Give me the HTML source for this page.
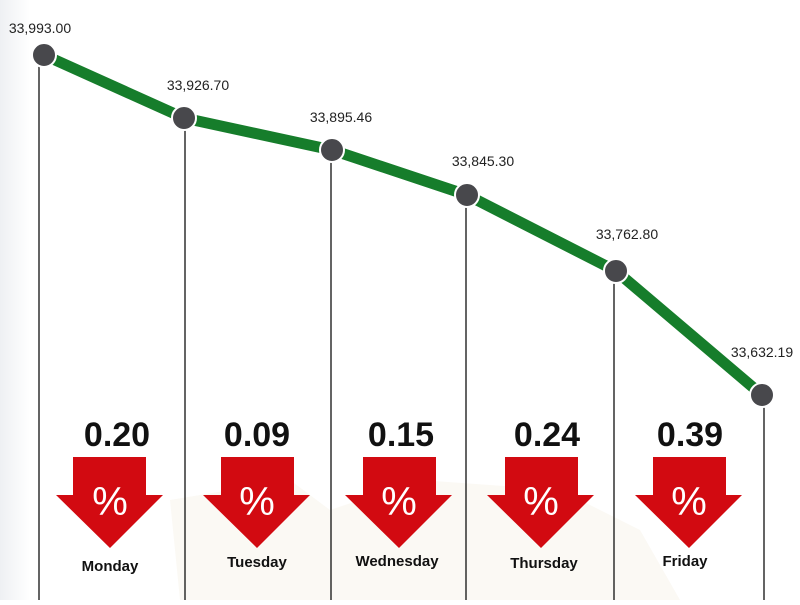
<!DOCTYPE html>
<html><head><style>
body{margin:0;width:800px;height:600px;background:#fff;overflow:hidden;font-family:"Liberation Sans",sans-serif}
</style></head><body>
<svg width="800" height="600" xmlns="http://www.w3.org/2000/svg">
<defs><linearGradient id="g" x1="0" x2="1"><stop offset="0" stop-color="#eef0f3"/><stop offset="1" stop-color="#fff"/></linearGradient></defs>
<rect x="0" y="0" width="30" height="600" fill="url(#g)"/>
<path d="M170 500 L290 480 L330 510 L420 480 L560 490 L640 530 L680 600 L180 600 Z" fill="#fbf9f4"/>
<g stroke="#111" stroke-width="1.3">
<line x1="39" y1="60" x2="39" y2="600"/><line x1="185" y1="120" x2="185" y2="600"/>
<line x1="331" y1="152" x2="331" y2="600"/><line x1="466" y1="196" x2="466" y2="600"/>
<line x1="614" y1="272" x2="614" y2="600"/><line x1="764" y1="396" x2="764" y2="600"/>
</g>
<polyline points="44,55 184,118 332,150 467,195 616,271 762,395" fill="none" stroke="#167d2b" stroke-width="11" stroke-linejoin="round"/>
<g fill="#48484c" stroke="#fff" stroke-width="2">
<circle cx="44" cy="55" r="12"/><circle cx="184" cy="118" r="12"/><circle cx="332" cy="150" r="12"/>
<circle cx="467" cy="195" r="12"/><circle cx="616" cy="271" r="12"/><circle cx="762" cy="395" r="12"/>
</g>
<g font-size="14" fill="#222" text-anchor="middle">
<text x="40" y="33">33,993.00</text><text x="198" y="90">33,926.70</text>
<text x="341" y="122">33,895.46</text><text x="483" y="166">33,845.30</text>
<text x="627" y="239">33,762.80</text><text x="762" y="357">33,632.19</text>
</g>
<g fill="#d20a11">
<path d="M73 457 H146 V495 H163 L110 548 L56 495 H73 Z"/>
<path d="M224 457 H297 V495 H313 L260 548 L206 495 H224 Z" transform="translate(-3,0)"/>
<path d="M363 457 H436 V495 H452 L399 548 L345 495 H363 Z"/>
<path d="M505 457 H578 V495 H594 L541 548 L487 495 H505 Z"/>
<path d="M653 457 H726 V495 H742 L689 548 L635 495 H653 Z"/>
</g>
<g font-size="40" fill="#fff" text-anchor="middle">
<text x="110" y="515">%</text><text x="257" y="515">%</text><text x="399" y="515">%</text><text x="541" y="515">%</text><text x="689" y="515">%</text>
</g>
<g font-size="34" font-weight="bold" fill="#111" text-anchor="middle">
<text x="117" y="446">0.20</text><text x="257" y="446">0.09</text><text x="401" y="446">0.15</text><text x="547" y="446">0.24</text><text x="690" y="446">0.39</text>
</g>
<g font-size="15" font-weight="bold" fill="#111" text-anchor="middle">
<text x="110" y="571">Monday</text><text x="257" y="567">Tuesday</text><text x="397" y="566">Wednesday</text><text x="544" y="568">Thursday</text><text x="685" y="566">Friday</text>
</g>
</svg>
</body></html>
